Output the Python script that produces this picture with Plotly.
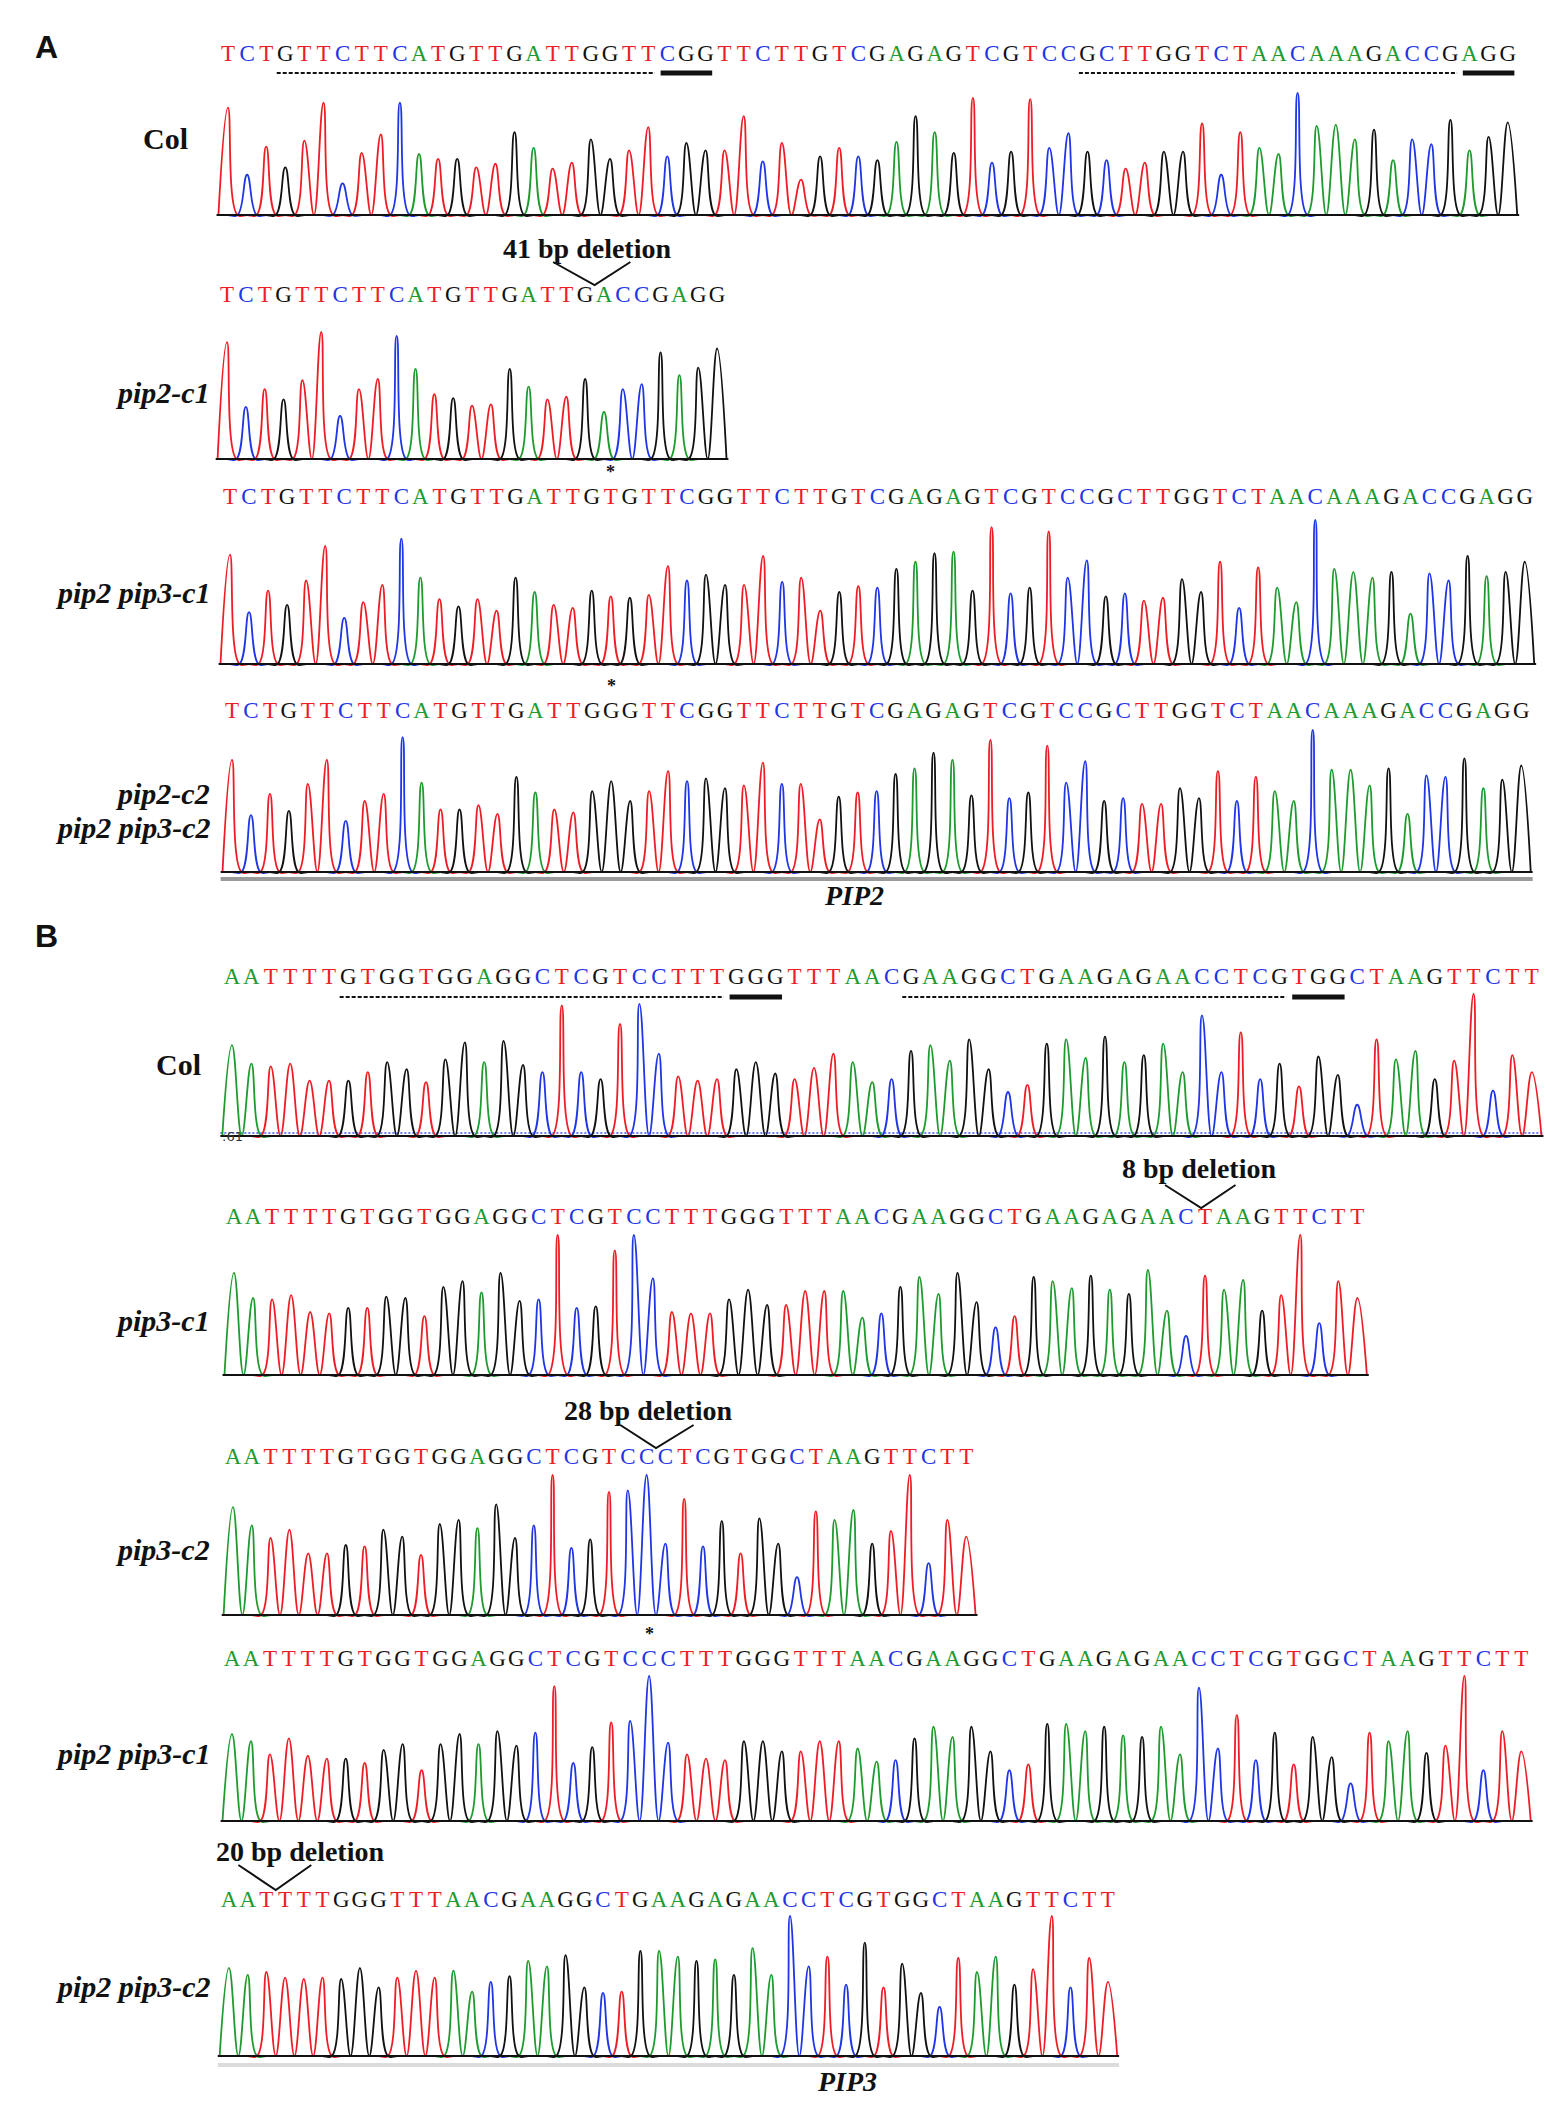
import plotly.graph_objects as go

W, H = 1562, 2108
SX, SY = -5, -5  # small global nudge of the whole drawing, in px

# colours of the four bases (trace + letter)
base_colors = {"A": "#1e9b2f", "C": "#1f35e6", "G": "#111111", "T": "#ee1d25"}

# ---------------- A: PIP2 reads ----------------
a_col_seq = "TCTGTTCTTCATGTTGATTGGTTCGGTTCTTGTCGAGAGTCGTCCGCTTGGTCTAACAAAGACCGAGG"
a_col_h = [0.88, 0.33, 0.56, 0.39, 0.61, 0.92, 0.26, 0.51, 0.66, 0.92,
           0.50, 0.46, 0.46, 0.39, 0.42, 0.68, 0.55, 0.38, 0.43, 0.62,
           0.46, 0.53, 0.72, 0.48, 0.59, 0.53, 0.53, 0.81, 0.44, 0.59,
           0.29, 0.48, 0.55, 0.48, 0.45, 0.60, 0.81, 0.68, 0.51, 0.96,
           0.43, 0.52, 0.95, 0.55, 0.67, 0.52, 0.45, 0.38, 0.43, 0.52,
           0.52, 0.75, 0.33, 0.68, 0.55, 0.50, 1.00, 0.73, 0.74, 0.62,
           0.70, 0.45, 0.62, 0.58, 0.78, 0.53, 0.64, 0.76]

a_pip2c1_seq = "TCTGTTCTTCATGTTGATTGACCGAGG"
a_pip2c1_h = [0.92, 0.41, 0.55, 0.47, 0.62, 1.00, 0.34, 0.55, 0.63, 0.97,
              0.71, 0.51, 0.48, 0.42, 0.43, 0.71, 0.57, 0.47, 0.49, 0.63,
              0.37, 0.55, 0.59, 0.84, 0.66, 0.72, 0.87]

a_dko1_seq = "TCTGTTCTTCATGTTGATTGTGTTCGGTTCTTGTCGAGAGTCGTCCGCTTGGTCTAACAAAGACCGAGG"
a_dko1_h = [0.76, 0.36, 0.51, 0.41, 0.58, 0.82, 0.32, 0.43, 0.55, 0.87,
            0.60, 0.45, 0.40, 0.45, 0.37, 0.60, 0.50, 0.41, 0.39, 0.51,
            0.47, 0.46, 0.48, 0.68, 0.58, 0.62, 0.55, 0.55, 0.75, 0.57,
            0.60, 0.37, 0.50, 0.54, 0.53, 0.66, 0.71, 0.77, 0.78, 0.51,
            0.95, 0.49, 0.53, 0.92, 0.60, 0.72, 0.47, 0.49, 0.44, 0.46,
            0.59, 0.50, 0.71, 0.39, 0.67, 0.53, 0.43, 1.00, 0.66, 0.64,
            0.60, 0.64, 0.35, 0.63, 0.58, 0.75, 0.61, 0.64, 0.71]

a_pip2c2_seq = "TCTGTTCTTCATGTTGATTGGGTTCGGTTCTTGTCGAGAGTCGTCCGCTTGGTCTAACAAAGACCGAGG"
a_pip2c2_h = [0.79, 0.40, 0.55, 0.43, 0.62, 0.79, 0.36, 0.50, 0.55, 0.95,
              0.63, 0.44, 0.44, 0.47, 0.41, 0.67, 0.56, 0.44, 0.42, 0.57,
              0.64, 0.50, 0.57, 0.71, 0.64, 0.66, 0.59, 0.61, 0.77, 0.62,
              0.62, 0.37, 0.53, 0.56, 0.57, 0.69, 0.73, 0.84, 0.79, 0.54,
              0.93, 0.52, 0.56, 0.89, 0.63, 0.78, 0.50, 0.52, 0.48, 0.48,
              0.59, 0.52, 0.71, 0.50, 0.67, 0.57, 0.50, 1.00, 0.72, 0.72,
              0.61, 0.73, 0.41, 0.68, 0.67, 0.80, 0.59, 0.65, 0.75]

# ---------------- B: PIP3 reads ----------------
b_col_seq = "AATTTTGTGGTGGAGGCTCGTCCTTTGGGTTTAACGAAGGCTGAAGAGAACCTCGTGGCTAAGTTCTT"
b_col_h = [0.64, 0.51, 0.49, 0.51, 0.39, 0.39, 0.39, 0.45, 0.52, 0.47,
           0.38, 0.54, 0.66, 0.52, 0.67, 0.50, 0.45, 0.92, 0.45, 0.40,
           0.79, 0.93, 0.58, 0.42, 0.39, 0.40, 0.47, 0.52, 0.44, 0.40,
           0.48, 0.58, 0.52, 0.38, 0.40, 0.60, 0.64, 0.53, 0.68, 0.47,
           0.31, 0.36, 0.65, 0.68, 0.55, 0.70, 0.52, 0.57, 0.65, 0.45,
           0.85, 0.45, 0.73, 0.40, 0.51, 0.35, 0.56, 0.43, 0.22, 0.68,
           0.54, 0.60, 0.40, 0.53, 1.00, 0.32, 0.57, 0.45]

b_pip3c1_seq = "AATTTTGTGGTGGAGGCTCGTCCTTTGGGTTTAACGAAGGCTGAAGAGAACTAAGTTCTT"
b_pip3c1_h = [0.73, 0.55, 0.54, 0.57, 0.45, 0.44, 0.48, 0.48, 0.56, 0.55,
              0.42, 0.63, 0.67, 0.59, 0.73, 0.53, 0.54, 1.00, 0.48, 0.49,
              0.89, 1.00, 0.69, 0.45, 0.44, 0.44, 0.54, 0.61, 0.50, 0.50,
              0.60, 0.60, 0.60, 0.41, 0.44, 0.63, 0.70, 0.58, 0.73, 0.52,
              0.34, 0.42, 0.70, 0.67, 0.62, 0.71, 0.61, 0.58, 0.75, 0.46,
              0.28, 0.71, 0.61, 0.68, 0.46, 0.57, 1.00, 0.37, 0.67, 0.55]

b_pip3c2_seq = "AATTTTGTGGTGGAGGCTCGTCCCTCGTGGCTAAGTTCTT"
b_pip3c2_h = [0.77, 0.64, 0.55, 0.61, 0.44, 0.44, 0.50, 0.49, 0.61, 0.56,
              0.43, 0.65, 0.68, 0.62, 0.79, 0.55, 0.64, 1.00, 0.48, 0.54,
              0.88, 0.89, 1.00, 0.51, 0.83, 0.49, 0.67, 0.44, 0.69, 0.51,
              0.27, 0.74, 0.68, 0.75, 0.51, 0.60, 1.00, 0.37, 0.68, 0.56]

b_dko1_seq = "AATTTTGTGGTGGAGGCTCGTCCCTTTGGGTTTAACGAAGGCTGAAGAGAACCTCGTGGCTAAGTTCTT"
b_dko1_h = [0.60, 0.55, 0.46, 0.57, 0.45, 0.43, 0.43, 0.40, 0.49, 0.53,
            0.35, 0.53, 0.60, 0.53, 0.62, 0.52, 0.61, 0.93, 0.40, 0.51,
            0.68, 0.69, 1.00, 0.54, 0.46, 0.43, 0.42, 0.55, 0.55, 0.48,
            0.48, 0.55, 0.55, 0.50, 0.41, 0.42, 0.57, 0.65, 0.58, 0.65,
            0.48, 0.35, 0.39, 0.67, 0.67, 0.62, 0.65, 0.59, 0.58, 0.65,
            0.46, 0.92, 0.50, 0.73, 0.42, 0.61, 0.39, 0.58, 0.44, 0.26,
            0.61, 0.55, 0.62, 0.47, 0.52, 1.00, 0.35, 0.62, 0.48]

b_dko2_seq = "AATTTTGGGTTTAACGAAGGCTGAAGAGAACCTCGTGGCTAAGTTCTT"
b_dko2_h = [0.63, 0.58, 0.60, 0.56, 0.55, 0.56, 0.55, 0.63, 0.49, 0.56,
            0.61, 0.56, 0.61, 0.46, 0.53, 0.57, 0.68, 0.64, 0.72, 0.49,
            0.45, 0.46, 0.75, 0.75, 0.71, 0.68, 0.69, 0.58, 0.77, 0.58,
            1.00, 0.64, 0.71, 0.51, 0.81, 0.49, 0.66, 0.45, 0.35, 0.70,
            0.60, 0.71, 0.51, 0.62, 1.00, 0.49, 0.70, 0.53]

# sgRNA target (dashed) and PAM (solid) spans on the Col reads, as base indices
a_guides = [(3, 22), (45, 64)]
a_pams = [(23, 25), (65, 67)]
b_guides = [(6, 25), (35, 54)]
b_pams = [(26, 28), (55, 57)]

# panel layout: first-peak x / spacing (px), letter row, top of peak scale, baseline (px)
panels = [
    dict(seq=a_col_seq, h=a_col_h, x0=225, dx=19.1, seq_px=52, top=90, base=212,
         label=["<b>Col</b>"], lab_x=162, lab_y=[136], lab_anchor="center",
         guides=a_guides, pams=a_pams, ul_px=70),
    dict(seq=a_pip2c1_seq, h=a_pip2c1_h, x0=224, dx=18.85, seq_px=293, top=329, base=456,
         label=["<b><i>pip2-c1</i></b>"], lab_y=[390],
         deletion=dict(text="41 bp deletion", tx=19.1, ty=245, v=(17.3, 19.5, 21.4), vy=(259, 282))),
    dict(seq=a_dko1_seq, h=a_dko1_h, x0=227, dx=19.04, seq_px=495, top=517, base=661,
         label=["<b><i>pip2 pip3-c1</i></b>"], lab_y=[589], star=20),
    dict(seq=a_pip2c2_seq, h=a_pip2c2_h, x0=229, dx=18.96, seq_px=709, top=727, base=869,
         label=["<b><i>pip2-c2</i></b>", "<b><i>pip2 pip3-c2</i></b>"], lab_y=[791, 824],
         star=20, gray=(876, "#9a9a9a")),
    dict(seq=b_col_seq, h=b_col_h, x0=229, dx=19.4, seq_px=975, top=991, base=1133,
         label=["<b>Col</b>"], lab_x=175, lab_y=[1061], lab_anchor="center",
         guides=b_guides, pams=b_pams, ul_px=994, dotted=1130),
    dict(seq=b_pip3c1_seq, h=b_pip3c1_h, x0=231, dx=19.04, seq_px=1215, top=1232, base=1372,
         label=["<b><i>pip3-c1</i></b>"], lab_y=[1317],
         deletion=dict(text="8 bp deletion", tx=50.7, ty=1165, v=(48.9, 50.8, 52.6), vy=(1182, 1205))),
    dict(seq=b_pip3c2_seq, h=b_pip3c2_h, x0=230, dx=18.8, seq_px=1455, top=1472, base=1612,
         label=["<b><i>pip3-c2</i></b>"], lab_y=[1546],
         deletion=dict(text="28 bp deletion", tx=22.1, ty=1407, v=(20.6, 22.5, 24.5), vy=(1422, 1445))),
    dict(seq=b_dko1_seq, h=b_dko1_h, x0=229, dx=18.96, seq_px=1657, top=1673, base=1818,
         label=["<b><i>pip2 pip3-c1</i></b>"], lab_y=[1750], star=22),
    dict(seq=b_dko2_seq, h=b_dko2_h, x0=226, dx=18.7, seq_px=1898, top=1913, base=2053,
         label=["<b><i>pip2 pip3-c2</i></b>"], lab_y=[1983], gray=(2062, "#dcdcdc"),
         deletion=dict(text="20 bp deletion", tx=3.8, ty=1848, v=(0.5, 2.5, 4.4), vy=(1862, 1887))),
]

SERIF = "Liberation Serif, Times New Roman, serif"
fig = go.Figure()
annotations = []


def px_x(px):
    return (px + SX) / W


def px_y(py):
    return 1 - (py + SY) / H


def peak_line(seq, heights, base):
    xs, ys = [-0.5], [0]
    for i, (b, h) in enumerate(zip(seq, heights)):
        xs += [i, i + 0.5]
        ys += [h if b == base else 0, 0]
    return xs, ys


for k, p in enumerate(panels, start=1):
    sfx = "" if k == 1 else str(k)
    xa, ya = "x" + sfx, "y" + sfx
    n = len(p["seq"])

    def yv(px, p=p):
        return (p["base"] - px) / (p["base"] - p["top"])

    if "gray" in p:
        fig.add_trace(go.Scatter(x=[-0.6, n - 0.4], y=[yv(p["gray"][0])] * 2, mode="lines",
                                 line=dict(color=p["gray"][1], width=4), xaxis=xa, yaxis=ya))
    if "dotted" in p:
        fig.add_trace(go.Scatter(x=[-0.6, n - 0.4], y=[yv(p["dotted"])] * 2, mode="lines",
                                 line=dict(color="#3a55ff", width=1.5, dash="2px,2px"), xaxis=xa, yaxis=ya))

    for b in "ACTG":
        xs, ys = peak_line(p["seq"], p["h"], b)
        fig.add_trace(go.Scatter(x=xs, y=ys, mode="lines",
                                 line=dict(color=base_colors[b], width=1.8, shape="spline", smoothing=1.2),
                                 xaxis=xa, yaxis=ya, hoverinfo="skip"))

    # baseline
    fig.add_trace(go.Scatter(x=[-0.6, n - 0.4], y=[0, 0], mode="lines",
                             line=dict(color="#111111", width=2.2), xaxis=xa, yaxis=ya))

    # called bases
    fig.add_trace(go.Scatter(x=list(range(n)), y=[yv(p["seq_px"])] * n, mode="text",
                             text=list(p["seq"]),
                             textfont=dict(family=SERIF, size=23, color=[base_colors[c] for c in p["seq"]]),
                             xaxis=xa, yaxis=ya, hoverinfo="skip"))

    for s, e in p.get("guides", []):
        fig.add_trace(go.Scatter(x=[s - 0.45, e + 0.35], y=[yv(p["ul_px"])] * 2, mode="lines",
                                 line=dict(color="#111111", width=2, dash="4px,2px"), xaxis=xa, yaxis=ya))
    for s, e in p.get("pams", []):
        fig.add_trace(go.Scatter(x=[s - 0.35, e + 0.35], y=[yv(p["ul_px"])] * 2, mode="lines",
                                 line=dict(color="#111111", width=5), xaxis=xa, yaxis=ya))

    if "deletion" in p:
        d = p["deletion"]
        fig.add_trace(go.Scatter(x=list(d["v"]), y=[yv(d["vy"][0]), yv(d["vy"][1]), yv(d["vy"][0])],
                                 mode="lines", line=dict(color="#111111", width=2), xaxis=xa, yaxis=ya))
        annotations.append(dict(x=d["tx"], xref=xa, y=px_y(d["ty"]), yref="paper",
                                text="<b>" + d["text"] + "</b>", showarrow=False,
                                font=dict(family=SERIF, size=28, color="#111111"),
                                xanchor="center", yanchor="middle"))
    if "star" in p:
        annotations.append(dict(x=p["star"], xref=xa, y=px_y(p["seq_px"] - 26), yref="paper",
                                text="<b>*</b>", showarrow=False,
                                font=dict(family=SERIF, size=18, color="#111111"),
                                xanchor="center", yanchor="middle"))

    for txt, ly in zip(p["label"], p["lab_y"]):
        anchor = p.get("lab_anchor", "right")
        lx = p.get("lab_x", 209)
        annotations.append(dict(x=px_x(lx), xref="paper", y=px_y(ly), yref="paper", text=txt,
                                showarrow=False, font=dict(family=SERIF, size=30, color="#111111"),
                                xanchor=anchor, yanchor="middle"))

    fig.layout["xaxis" + sfx] = dict(domain=[0, 1],
                                      range=[(-SX - p["x0"]) / p["dx"], (W - SX - p["x0"]) / p["dx"]],
                                      visible=False, fixedrange=True, anchor=ya)
    fig.layout["yaxis" + sfx] = dict(domain=[0, 1], range=[yv(H - SY), yv(-SY)],
                                      visible=False, fixedrange=True, anchor=xa)

# panel letters and gene names
for txt, px, py in [("A", 43, 44), ("B", 43, 933)]:
    annotations.append(dict(x=px_x(px), y=px_y(py), xref="paper", yref="paper", text="<b>" + txt + "</b>",
                            showarrow=False, font=dict(family="Liberation Sans, Arial, sans-serif", size=32,
                                                       color="#111111"), xanchor="center", yanchor="middle"))
for txt, px, py in [("PIP2", 851, 892), ("PIP3", 844, 2078)]:
    annotations.append(dict(x=px_x(px), y=px_y(py), xref="paper", yref="paper",
                            text="<b><i>" + txt + "</i></b>", showarrow=False,
                            font=dict(family=SERIF, size=28, color="#111111"),
                            xanchor="center", yanchor="middle"))
annotations.append(dict(x=px_x(229), y=px_y(1133), xref="paper", yref="paper", text=":61",
                        showarrow=False, font=dict(family="DejaVu Sans, sans-serif", size=13, color="#333333"),
                        xanchor="center", yanchor="middle"))

fig.update_layout(
    width=W, height=H,
    margin=dict(l=0, r=0, t=0, b=0),
    paper_bgcolor="white", plot_bgcolor="rgba(0,0,0,0)",
    showlegend=False,
    annotations=annotations,
)

fig.write_html("out.html")
